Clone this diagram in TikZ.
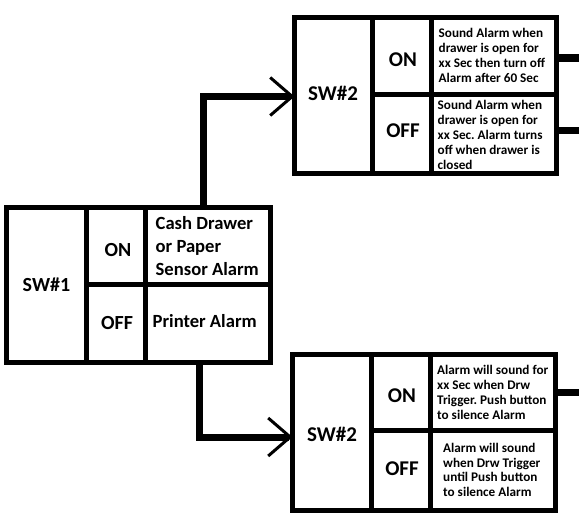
\documentclass[tikz,border=0pt]{standalone}
\usepackage{fontspec}
\setmainfont{Carlito}
\usetikzlibrary{arrows.meta}
\frenchspacing
\begin{document}
\begin{tikzpicture}[x=1pt,y=-1pt,
  box/.style={draw, line width=5pt, inner sep=0pt, outer sep=0pt, anchor=north west},
  divider/.style={line width=5pt},
  conn/.style={line width=7pt, -{Straight Barb[length=22pt,width=38pt,line width=3pt]}},
  stub/.style={line width=7.5pt},
  label1/.style={font=\bfseries\fontsize{20}{23}\selectfont, inner sep=0pt},
  big/.style={font=\bfseries\fontsize{18.6}{22.7}\selectfont, align=left, inner sep=0pt, anchor=west},
  big2/.style={font=\bfseries\fontsize{21}{24}\selectfont, inner sep=0pt},
  small/.style={font=\bfseries\fontsize{13.2}{14.8}\selectfont, align=left, inner sep=0pt, anchor=west},
]
\useasboundingbox (0,0) rectangle (579,527);

% SW#1 block
\node[box, minimum width=264pt, minimum height=155pt] (sw1) at (6.5,207.5) {};
\draw[divider] (86.5,207.5) -- (86.5,362.5);
\draw[divider] (145.5,207.5) -- (145.5,362.5);
\draw[divider] (86.5,284.5) -- (270.5,284.5);
\node[label1] (s1) at (46.5,285) {SW\#1};
\node[label1] (s1on) at (118,250) {ON};
\node[label1] (s1off) at (117,323) {OFF};
\node[big] (s1ont) at (155.5,246) {Cash Drawer\\or Paper\\Sensor Alarm};
\node[big] (s1offt) at (152.5,321) {Printer Alarm};

% upper SW#2 block
\node[box, minimum width=262pt, minimum height=156pt] (sw2a) at (294.5,17.5) {};
\draw[divider] (372.5,17.5) -- (372.5,173.5);
\draw[divider] (431.5,17.5) -- (431.5,173.5);
\draw[divider] (372.5,94.5) -- (556.5,94.5);
\node[big2] (s2a) at (333,93) {SW\#2};
\node[big2] (s2aon) at (403,60) {ON};
\node[big2] (s2aoff) at (403,131) {OFF};
\node[small] (s2aont) at (438.5,55.5) {Sound Alarm when\\drawer is open for\\xx Sec then turn off\\Alarm after 60 Sec};
\node[small] (s2aofft) at (437.5,135) {Sound Alarm when\\drawer is open for\\xx Sec. Alarm turns\\off when drawer is\\closed};

% lower SW#2 block
\node[box, minimum width=263pt, minimum height=156pt] (sw2b) at (292.5,354.5) {};
\draw[divider] (371.5,354.5) -- (371.5,510.5);
\draw[divider] (430.5,354.5) -- (430.5,510.5);
\draw[divider] (371.5,430.5) -- (555.5,430.5);
\node[big2] (s2b) at (332,434) {SW\#2};
\node[big2] (s2bon) at (402,396) {ON};
\node[big2] (s2boff) at (402,469) {OFF};
\node[small] (s2bont) at (437,392.5) {Alarm will sound for\\xx Sec when Drw\\Trigger. Push button\\to silence Alarm};
\node[small] (s2bofft) at (443,470) {Alarm will sound\\when Drw Trigger\\until Push button\\to silence Alarm};

% connectors
\coordinate (upbend) at (203.5,96.5);
\coordinate (downbend) at (199,437);
\draw[conn] (sw1.north -| upbend) -- (upbend) -- (upbend -| sw2a.west);
\draw[conn] (sw1.south -| downbend) -- (downbend) -- (downbend -| sw2b.west);

% outgoing stubs
\coordinate (o1) at (579,58);
\coordinate (o2) at (579,130.5);
\coordinate (o3) at (579,392.5);
\draw[stub] (o1 -| sw2a.east) -- (o1);
\draw[stub] (o2 -| sw2a.east) -- (o2);
\draw[stub] (o3 -| sw2b.east) -- (o3);
\end{tikzpicture}
\end{document}
